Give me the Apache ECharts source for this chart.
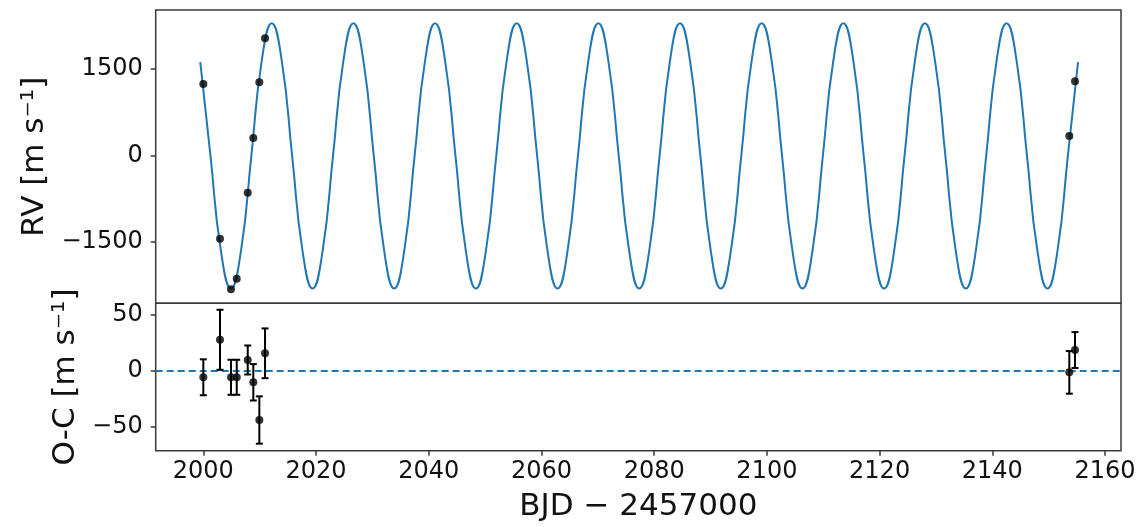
<!DOCTYPE html>
<html>
<head>
<meta charset="utf-8">
<script src="https://cdn.jsdelivr.net/npm/echarts@6/dist/echarts.min.js"></script>
<style>
html,body{margin:0;padding:0;background:#fff;}
#chart{width:1143px;height:527px;}
</style>
</head>
<body>
<div id="chart"></div>
<script>
// ---- tick labels ----
const xTicks = [2000, 2020, 2040, 2060, 2080, 2100, 2120, 2140, 2160];
const rvTicks = [-1500, 0, 1500];
const ocTicks = [-50, 0, 50];

const obsTime = [2000.00, 2002.96, 2004.91, 2005.93, 2007.88, 2008.87, 2009.94, 2010.95, 2153.66, 2154.67];
const obsRV   = [1236, -1446, -2324, -2140, -649, 300, 1266, 2029, 335, 1283];
const ocValue = [-5.6, 28.0, -5.6, -5.6, 9.9, -10.1, -43.9, 15.9, -1.2, 18.8];
const ocError = [16.1, 26.9, 15.7, 15.7, 13.0, 16.3, 21.2, 22.3, 19.1, 16.1];

// ---- model curve (peaks, troughs, crossings, mid-points) ----
const modelTime = [
  1999.46, 2001.27, 2003.09, 2004.90, 2006.71, 2008.52, 2010.33,
  2012.14, 2013.95, 2015.76, 2017.57, 2019.38, 2021.20, 2023.01, 2024.82,
  2026.63, 2028.44, 2030.25, 2032.06, 2033.87, 2035.68, 2037.49, 2039.31,
  2041.12, 2042.93, 2044.74, 2046.55, 2048.36, 2050.17, 2051.98, 2053.79,
  2055.60, 2057.42, 2059.23, 2061.04, 2062.85, 2064.66, 2066.47, 2068.28,
  2070.09, 2071.90, 2073.71, 2075.53, 2077.34, 2079.15, 2080.96, 2082.77,
  2084.58, 2086.39, 2088.20, 2090.01, 2091.82, 2093.64, 2095.45, 2097.26,
  2099.07, 2100.88, 2102.69, 2104.50, 2106.31, 2108.12, 2109.93, 2111.75,
  2113.56, 2115.37, 2117.18, 2118.99, 2120.80, 2122.61, 2124.42, 2126.23,
  2128.04, 2129.86, 2131.67, 2133.48, 2135.29, 2137.10, 2138.91, 2140.72,
  2142.53, 2144.34, 2146.15, 2147.97, 2149.78, 2151.59, 2153.40, 2155.21
];
const modelRV = [
  1616, -10, -1636, -2310, -1636, -10, 1616,
  2290, 1616, -10, -1636, -2310, -1636, -10, 1616,
  2290, 1616, -10, -1636, -2310, -1636, -10, 1616,
  2290, 1616, -10, -1636, -2310, -1636, -10, 1616,
  2290, 1616, -10, -1636, -2310, -1636, -10, 1616,
  2290, 1616, -10, -1636, -2310, -1636, -10, 1616,
  2290, 1616, -10, -1636, -2310, -1636, -10, 1616,
  2290, 1616, -10, -1636, -2310, -1636, -10, 1616,
  2290, 1616, -10, -1636, -2310, -1636, -10, 1616,
  2290, 1616, -10, -1636, -2310, -1636, -10, 1616,
  2290, 1616, -10, -1636, -2310, -1636, -10, 1616
];

const X_MIN = 1991.55, X_MAX = 2162.83;
const FONT = 'DejaVu Sans';
const BLUE = '#1f77b4';
const FRAME = '#3a3a3a';
const TXT = '#111111';

const fmtMinus = v => String(v).replace('-', '\u2212');

const chart = echarts.init(document.getElementById('chart'), null, {renderer: 'canvas'});

function xAxisCfg(gridIndex, showLabels) {
  return {
    type: 'value', gridIndex: gridIndex, min: X_MIN, max: X_MAX,
    axisLine: {show: false, onZero: false},
    splitLine: {show: false},
    axisTick: {show: showLabels, customValues: xTicks, length: 5, inside: false,
      lineStyle: {color: FRAME, width: 1.5}},
    axisLabel: {show: showLabels, customValues: xTicks, margin: 9,
      fontFamily: FONT, fontSize: 24, color: TXT,
      formatter: v => String(v)},
    name: showLabels ? 'BJD \u2212 2457000' : '',
    nameLocation: 'middle', nameGap: 41,
    nameTextStyle: {fontFamily: FONT, fontSize: 31, color: TXT}
  };
}
function yAxisCfg(gridIndex, min, max, ticks, name, gap) {
  return {
    type: 'value', gridIndex: gridIndex, min: min, max: max,
    axisLine: {show: false, onZero: false},
    splitLine: {show: false},
    axisTick: {show: true, customValues: ticks, length: 5,
      lineStyle: {color: FRAME, width: 1.5}},
    axisLabel: {show: true, customValues: ticks, margin: 13,
      fontFamily: FONT, fontSize: 24, color: TXT,
      formatter: v => fmtMinus(v)},
    name: name, nameLocation: 'middle', nameGap: gap, nameRotate: 90,
    nameTextStyle: {fontFamily: FONT, fontSize: 31, color: TXT}
  };
}

const modelData = modelTime.map((t, i) => [t, modelRV[i]]);
const obsData = obsTime.map((t, i) => [t, obsRV[i]]);
const ocData = obsTime.map((t, i) => [t, ocValue[i], ocError[i]]);

const option = {
  backgroundColor: '#ffffff',
  animation: false,
  grid: [
    {left: 155.7, top: 10, width: 965.3, height: 293.3, show: true,
      borderColor: FRAME, borderWidth: 1.5, backgroundColor: 'transparent'},
    {left: 155.7, top: 303.3, width: 965.3, height: 147.4, show: true,
      borderColor: FRAME, borderWidth: 1.5, backgroundColor: 'transparent'}
  ],
  xAxis: [xAxisCfg(0, false), xAxisCfg(1, true)],
  yAxis: [
    yAxisCfg(0, -2566, 2520, rvTicks, 'RV [m s\u207B\u00B9]', 105),
    yAxisCfg(1, -71.4, 60.7, ocTicks, 'O-C [m s\u207B\u00B9]', 73)
  ],
  series: [
    {
      type: 'line', xAxisIndex: 0, yAxisIndex: 0, data: modelData,
      smooth: 0.5, showSymbol: false, symbol: 'none',
      lineStyle: {color: BLUE, width: 2}, z: 2, clip: true
    },
    {
      type: 'scatter', xAxisIndex: 0, yAxisIndex: 0, data: obsData,
      symbolSize: 8, itemStyle: {color: '#000000'}, z: 3
    },
    {
      type: 'line', xAxisIndex: 1, yAxisIndex: 1,
      data: [[X_MIN, 0], [X_MAX, 0]], showSymbol: false, symbol: 'none',
      lineStyle: {color: BLUE, width: 2, type: [7, 4]}, z: 2
    },
    {
      type: 'custom', xAxisIndex: 1, yAxisIndex: 1, data: ocData, z: 3,
      renderItem: function (params, api) {
        const x = api.value(0), y = api.value(1), e = api.value(2);
        const top = api.coord([x, y + e]);
        const bot = api.coord([x, y - e]);
        const cap = 3.5;
        const style = {stroke: '#000000', lineWidth: 2};
        return {
          type: 'group',
          children: [
            {type: 'line', shape: {x1: top[0], y1: top[1], x2: bot[0], y2: bot[1]}, style: style},
            {type: 'line', shape: {x1: top[0] - cap, y1: top[1], x2: top[0] + cap, y2: top[1]}, style: style},
            {type: 'line', shape: {x1: bot[0] - cap, y1: bot[1], x2: bot[0] + cap, y2: bot[1]}, style: style}
          ]
        };
      }
    },
    {
      type: 'scatter', xAxisIndex: 1, yAxisIndex: 1,
      data: obsTime.map((t, i) => [t, ocValue[i]]),
      symbolSize: 8, itemStyle: {color: '#000000'}, z: 4
    }
  ]
};
chart.setOption(option);
</script>
</body>
</html>
